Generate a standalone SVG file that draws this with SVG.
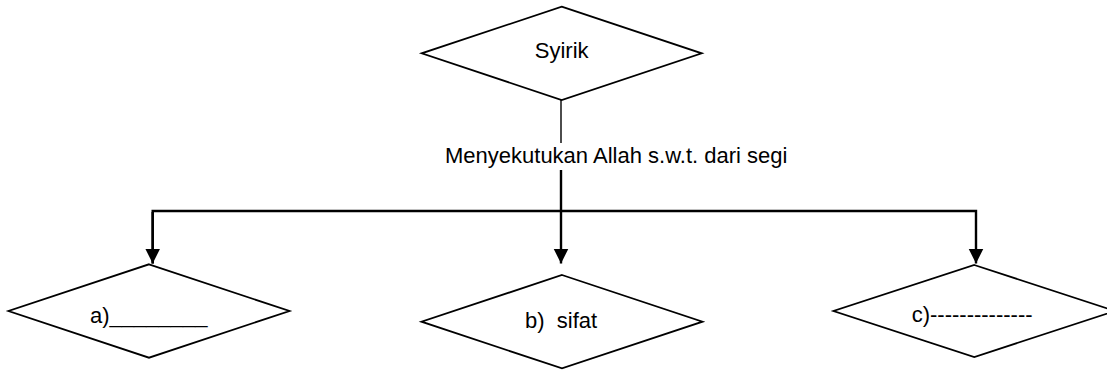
<svg xmlns="http://www.w3.org/2000/svg" width="1107" height="370" viewBox="0 0 1107 370">
  <style>
    .node { fill: #ffffff; stroke: #000000; stroke-width: 1.8; }
    .lbl { font-family: "Liberation Sans", Arial, sans-serif; font-size: 22px; fill: #000000; white-space: pre; }
    .conn { fill: none; stroke: #000000; stroke-width: 2.4; }
    .thin { fill: none; stroke: #000000; stroke-width: 1.4; }
  </style>
  <defs>
    <marker id="arrow" markerUnits="userSpaceOnUse" markerWidth="16" markerHeight="16" viewBox="0 0 16 16" refX="15" refY="8" orient="auto">
      <path d="M0,0.5 L15,8 L0,15.5 Z" fill="#000000"/>
    </marker>
  </defs>
  <rect width="1107" height="370" fill="#ffffff"/>
  <g id="connectors">
    <line class="thin" x1="561" y1="100" x2="561" y2="143"/>
    <text class="lbl" x="445" y="163.3">Menyekutukan Allah s.w.t. dari segi</text>
    <line class="conn" x1="561" y1="170" x2="561" y2="263.5" marker-end="url(#arrow)"/>
    <polyline class="conn" points="152.7,263.5 152.7,211 976,211 976,263.5" marker-end="url(#arrow)" marker-start="none"/>
    <line class="conn" x1="152.7" y1="212" x2="152.7" y2="263.5" marker-end="url(#arrow)"/>
  </g>
  <g id="node-syirik">
    <polygon class="node" points="561.7,6.7 701.7,53.3 561.7,100 421.7,53.3"/>
    <text class="lbl" x="561.7" y="58.3" text-anchor="middle">Syirik</text>
  </g>
  <g id="node-a">
    <polygon class="node" points="149,264.3 289.5,311 149,357.7 8.5,311"/>
    <text class="lbl" x="90" y="322.7">a)________</text>
  </g>
  <g id="node-b">
    <polygon class="node" points="562,275 702.5,321.7 562,368.4 421.5,321.7"/>
    <text class="lbl" x="525" y="328.3">b)  sifat</text>
  </g>
  <g id="node-c">
    <polygon class="node" points="974.3,265 1115,311 974.3,357 833.5,311"/>
    <text class="lbl" x="911.7" y="321.7">c)--------------</text>
  </g>
</svg>
